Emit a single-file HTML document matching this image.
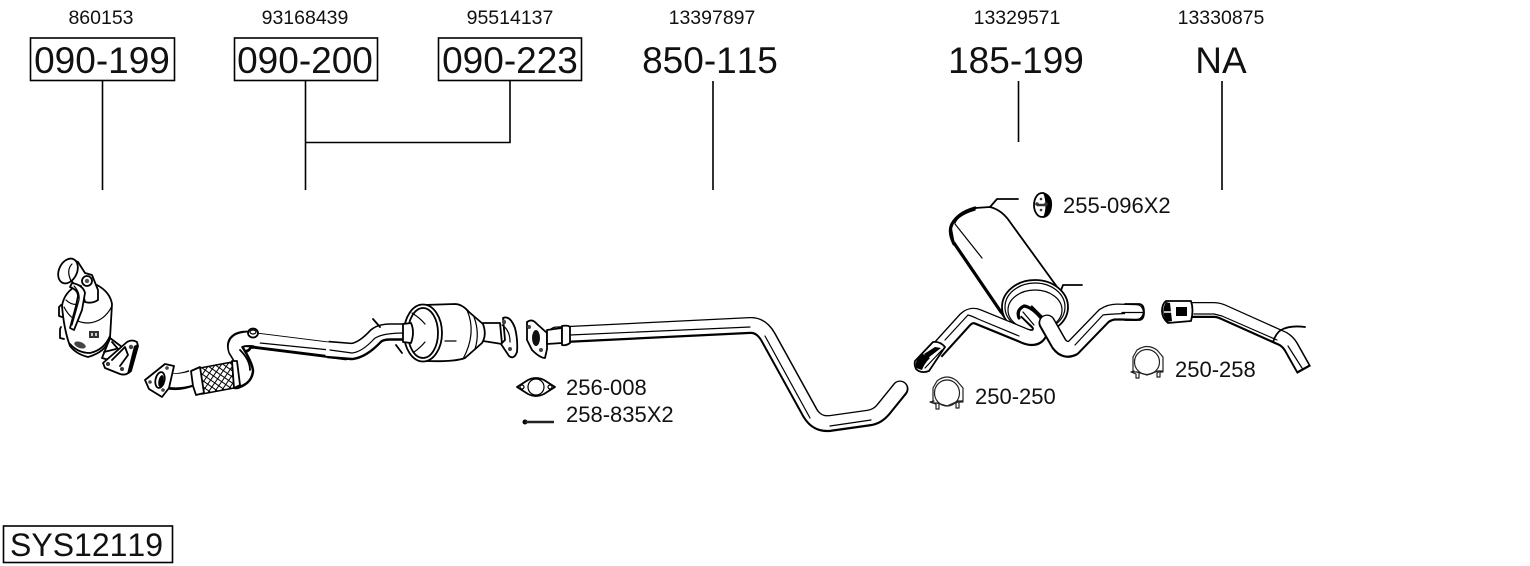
<!DOCTYPE html>
<html><head><meta charset="utf-8"><style>
html,body{margin:0;padding:0;background:#fff}
svg{display:block}
text{font-family:"Liberation Sans",sans-serif;fill:#111;font-kerning:none}
.t{font-size:19.5px;text-anchor:middle}
.b{font-size:37px;text-anchor:middle}
.l{font-size:22px}
.w{fill:#fff;stroke:#000;stroke-width:1.8;stroke-linejoin:round}
.n{fill:none;stroke:#000;stroke-width:1.2;stroke-linecap:round;stroke-linejoin:round}
.f{fill:none;stroke:#000;stroke-width:1.8;stroke-linecap:round;stroke-linejoin:round}
.h{fill:none;stroke:#000;stroke-width:3.2;stroke-linecap:round;stroke-linejoin:round}
.pb{fill:none;stroke:#000;stroke-linecap:round;stroke-linejoin:round}
.pw{fill:none;stroke:#fff;stroke-linecap:round;stroke-linejoin:round}
.tb{fill:none;stroke:#000;stroke-linecap:butt;stroke-linejoin:round}
.tw{fill:none;stroke:#fff;stroke-linecap:butt;stroke-linejoin:round}
</style></head><body>
<svg width="1530" height="566" viewBox="0 0 1530 566" xmlns="http://www.w3.org/2000/svg">
<defs>
<pattern id="x" width="5" height="5" patternUnits="userSpaceOnUse" patternTransform="rotate(35)">
<rect width="5" height="5" fill="#fff"/><path d="M0 0H5M0 0V5" stroke="#000" stroke-width="2"/>
</pattern>
</defs>

<!-- labels -->
<text class="t" x="101" y="24">860153</text>
<text class="t" x="305" y="24">93168439</text>
<text class="t" x="510" y="24">95514137</text>
<text class="t" x="712" y="24">13397897</text>
<text class="t" x="1017" y="24">13329571</text>
<text class="t" x="1221" y="24">13330875</text>
<g fill="none" stroke="#000" stroke-width="1.600">
<rect x="30.500" y="38" width="144" height="42.500"/>
<rect x="234.500" y="38" width="143" height="42.500"/>
<rect x="438.500" y="38" width="143" height="42.500"/>
<rect x="3.500" y="526" width="169" height="36.500"/>
</g>
<text class="b" x="102" y="73">090-199</text>
<text class="b" x="305" y="73">090-200</text>
<text class="b" x="510" y="73">090-223</text>
<text class="b" x="710" y="73">850-115</text>
<text class="b" x="1016" y="73">185-199</text>
<text class="b" x="1221" y="73">NA</text>
<text x="10" y="556" style="font-size:32px">SYS12119</text>
<text class="l" x="1063" y="213">255-096X2</text>
<text class="l" x="566" y="395">256-008</text>
<text class="l" x="566" y="422">258-835X2</text>
<text class="l" x="975" y="404">250-250</text>
<text class="l" x="1175" y="377">250-258</text>

<g stroke="#000" stroke-width="1.600" fill="none">
<path d="M102.500 81V190M305.500 81V190M510 81V142.500H305M713 81V190M1018.500 81V142M1222 81V190"/>
</g>

<!-- catalytic converter 1 -->
<path class="f" d="M61 305L59 307V316L62 317M61 327L60 329V338L64 339"/>
<path class="w" d="M110 338L122 347L116 362L102 358Z"/>
<path class="f" d="M104 352L116 349M112 342L119 350"/>
<path class="w" d="M62 306Q64 292 78 285L97 285Q110 292 112 304L110 338Q106 352 88 357Q76 354 70 346Q64 330 62 306Z" stroke-width="2.200"/>
<path class="n" d="M64 307Q72 323 88 323Q104 322 112 306"/>
<path class="f" d="M70 344Q78 353 90 353Q104 350 110 336"/>
<path class="n" d="M66 300Q72 306 80 304"/>
<path class="w" d="M70 279Q74 268 73 260L78 262L85 273L92 275L98 290L98 300Q92 304 85 302L81 286L74 284Z" stroke-width="2"/>
<ellipse class="w" cx="68" cy="271" rx="9" ry="13" transform="rotate(25 68 271)" stroke-width="2.400"/>
<path class="n" d="M72 264Q66 270 71 281"/>
<ellipse class="w" cx="87" cy="281" rx="5" ry="5"/><circle cx="87" cy="281" r="2.200" fill="#555"/>
<path class="w" d="M72 283Q83 285 85 293L82 310L74 330L70 328L76 306L78 296Q78 290 70 287Z" stroke-width="1.500"/>
<path class="n" d="M74 286Q80 292 79 300L72 325"/>
<path d="M89 331H99V338H89Z" fill="#333"/><path d="M91 333H93V336H91ZM95 333H97V336H95Z" fill="#ccc"/>
<ellipse cx="80" cy="345" rx="6" ry="3" fill="#444" transform="rotate(20 80 345)"/>
<path class="w" d="M103 363L127 342Q132 339 137 342L138 346L131 371Q126 376 120 374L105 368Z" stroke-width="2.200"/>
<path d="M138 344L131 372L127 374L134 346Z" fill="#000"/>
<path class="f" d="M112 360L125 347L128 355L120 366"/>
<circle cx="131" cy="347" r="2.200" fill="#444"/><circle cx="108" cy="364" r="2" fill="#333"/><circle cx="122" cy="369" r="2" fill="#333"/>

<!-- front pipe -->
<path class="pb" stroke-width="16.500" d="M345 352L330 350L258 341Q247 339 244 345"/>
<path class="pw" stroke-width="12.500" d="M346 351L330 349L258 340Q247 338 244 344"/>
<path class="n" d="M260 343L330 350"/>
<path class="pb" stroke-width="16.500" d="M249 339Q232 338 236 350Q245 364 246 371Q245 378 236 381"/>
<path class="pw" stroke-width="12.500" d="M255 339Q232 337 235.500 350Q244.500 364 245.500 371Q244.500 378 236 380"/>
<path d="M240 350Q250 360 250 370" class="f"/>
<ellipse class="w" cx="253" cy="333" rx="5" ry="4.500"/>
<ellipse class="n" cx="253" cy="332" rx="3" ry="2"/>
<path class="tb" stroke-width="17" d="M168 381Q180 383 192 378"/>
<path class="tw" stroke-width="13.500" d="M168 380Q180 382 193 377.500"/>
<path d="M200 368L232 362L234 388L202 394Z" fill="url(#x)" stroke="#000" stroke-width="1.500"/>
<path class="w" d="M191 371L200 367L204 393L196 395L193 386Z" stroke-width="2"/>
<path class="w" d="M232 361L237 361L240 385L234 388Z" stroke-width="2"/>
<path class="w" d="M145 380L165 364L174 366L169 388L162 397L149 389Z" stroke-width="2.500"/>
<ellipse class="w" cx="160" cy="380" rx="4.500" ry="8" transform="rotate(12 160 380)"/>
<ellipse cx="161" cy="381" rx="2.500" ry="6" fill="#000" transform="rotate(12 161 381)"/>
<circle cx="167" cy="368" r="1.800" fill="#444"/><circle cx="150" cy="382" r="1.800" fill="#444"/><circle cx="163" cy="390" r="1.800" fill="#444"/>

<!-- bend to cat 2 -->
<path class="tb" stroke-width="17.500" d="M328 349.500L352 351.500Q363 350 376 336Q381 332 390 332L406 332"/>
<path class="tw" stroke-width="13.500" d="M326 349L352 351Q363 349.500 376 335.500Q381 331.500 390 331.500L408 331.500"/>
<path class="n" d="M330 350L352 353Q362 352 374 339Q381 333 405 333"/>
<path class="f" d="M373 319L380 327M396 345L402 353"/>

<!-- catalytic converter 2 -->
<path class="w" d="M483 323L500 323L502 344L483 341Z"/>
<path class="w" d="M423 305L455 304Q462 304 469 312L483 324Q487 335 482 343L465 358Q455 362 425 361Z" stroke-width="2.200"/>
<path class="n" d="M467 310Q477 333 463 359"/>
<path class="n" d="M474 317Q480 333 475 349"/>
<path class="n" d="M445 341H456"/>
<ellipse class="w" cx="423" cy="333" rx="19" ry="28.500" stroke-width="2.200"/>
<ellipse class="w" cx="423" cy="333" rx="15" ry="25"/>
<path class="n" d="M412 313Q420 318 425 324M414 352Q420 348 425 342"/>
<path class="w" d="M403 324L411 323Q415 332 411 343L403 342Z"/>

<!-- flange pair -->
<path class="w" d="M503 318Q510 315 515 328Q518 340 517 352Q514 360 509 356L501 344L505 340Z" stroke-width="2.400"/>
<ellipse cx="504" cy="322" rx="2" ry="2.500" fill="#444"/><circle cx="510" cy="349" r="2" fill="#444"/>
<path class="n" d="M502 325Q510 330 510 342"/>

<path class="w" d="M527 322Q532 318 537 324L547 333L547 349L545 358Q540 358 532 350L527 340Z" stroke-width="2.400"/>
<ellipse cx="536" cy="338" rx="4" ry="8" fill="#111"/>
<circle cx="529" cy="327" r="2" fill="#444"/><circle cx="541" cy="350" r="2" fill="#444"/>

<!-- main pipe -->
<path class="pb" stroke-width="17" d="M556 335L750 325.500Q761 325 768 337L810 413Q817 425 830 423.500L869 418Q877 417 883 410L900 389"/>
<path class="pw" stroke-width="13.500" d="M556 334.500L750 325Q761 324.500 768 336.500L810 412.500Q817 424.500 830 423L869 417.500Q877 416.500 883 409.500L900 388.500"/>
<path class="n" d="M570 335L750 327M765 336L810 418M830 426L871 420"/>
<path class="w" d="M547 330L562 328L562 343L547 344Z" stroke-width="1.600"/>
<path class="w" d="M562 326Q568 325 570 327L570 343Q566 346 562 345Z" stroke-width="1.600"/>

<!-- gasket and bolt -->
<path class="f" d="M517 387L528 380Q536 376 544 380L555 387L544 394Q536 398 528 394Z" stroke-width="1.300"/>
<ellipse class="n" cx="536" cy="387" rx="8" ry="8"/>
<circle class="n" cx="522" cy="387" r="2"/><circle class="n" cx="550" cy="387" r="2"/>
<circle cx="525" cy="422" r="2.500" fill="#000"/>
<path d="M525 422H554" stroke="#222" stroke-width="2.500"/>

<!-- muffler -->
<path class="w" d="M951 228Q955 212 975 208L990 207Q1002 210 1010 222L1060 291L1004 317L954 244Z" stroke-width="1.600"/>
<path class="h" d="M954 244Q948 232 952 224Q958 213 975 208M954 243L1001 312"/>
<path class="n" d="M955 223Q958 215 975 210M955 224L982 258"/>
<path class="f" d="M990 207L997 199H1018M1060 293L1063 285H1082"/>
<ellipse class="w" cx="1035" cy="307" rx="33" ry="27" stroke-width="2.400"/>
<ellipse class="n" cx="1035" cy="307" rx="30" ry="24"/>
<ellipse class="n" cx="1035" cy="310" rx="27" ry="20"/>

<!-- muffler pipes -->
<path class="tb" stroke-width="16.500" d="M936 352L965 320Q971 314 978 317L1022 335Q1036 342 1040 332Q1042 326 1035 320L1026 311"/>
<path class="pw" stroke-width="13" d="M936 351.500L965 319.500Q971 313.500 978 316.500L1022 334.500Q1036 341.500 1040 331.500Q1042 325.500 1035 319.500L1026 311"/>
<path class="h" d="M1019 318Q1016 310 1024 306Q1032 307 1041 318" stroke-width="2.200"/>
<path class="n" d="M945 340L968 315Q972 316 978 319L1019 336M1023 312L1034 325"/>

<path class="pb" stroke-width="17" d="M1047 323L1059 344Q1065 352 1073 348L1104 316Q1110 312 1117 312L1136 312.500"/>
<path class="pw" stroke-width="13.500" d="M1047 322.500L1059 343.500Q1065 351.500 1073 347.500L1104 315.500Q1110 311.500 1117 311.500L1136 312"/>
<path class="n" d="M1075 345L1103 315Q1108 314 1140 313"/>
<path class="f" d="M1125 304H1139Q1144 304 1144 312Q1144 320 1139 320H1125" stroke-width="2"/>
<path fill="#fff" stroke="none" d="M1125 305.500H1138Q1142 306 1142 312Q1142 318 1138 318.500H1125Z"/>
<path class="n" d="M1122 312.500H1143"/>

<!-- tip -->
<path class="w" d="M915 361L933 342Q940 341 945 347L929 371Q921 374 916 369Q914 365 915 361Z" stroke-width="2.400"/>
<path d="M916 368Q914 360 923 354L930 358Q924 364 922 370Z" fill="#000"/>
<path d="M924 354L935 347L941 348L928 358Z" fill="#000"/>
<path class="n" d="M925 368L942 350"/>

<!-- gasket 255-096 -->
<ellipse class="w" cx="1042" cy="205" rx="8" ry="12" stroke-width="1"/>
<path d="M1043 192Q1053 195 1052 206Q1051 217 1043 218Q1048 206 1043 192Z" fill="#000"/>
<path d="M1037 205H1047" stroke="#333" stroke-width="2.500"/>
<circle cx="1037" cy="204" r="1.800" fill="#333"/><circle cx="1046" cy="204" r="1.800" fill="#333"/><circle cx="1041" cy="199" r="1.300" fill="#333"/><circle cx="1041" cy="210" r="1.300" fill="#333"/>

<!-- clamps -->
<g fill="none" stroke="#222" stroke-width="1.200" stroke-linecap="round" stroke-linejoin="round">
<ellipse cx="947" cy="393" rx="12.500" ry="13"/>
<path d="M937 381Q947 373 957 381L963 388V401H958L947 406L937 403H933V388Z"/>
<path d="M934 401L930 402L936 404V409H939V404M960 401L956 403V408H959V402H963"/>
</g>
<g fill="none" stroke="#222" stroke-width="1.200" stroke-linecap="round" stroke-linejoin="round">
<ellipse cx="1147" cy="362" rx="12.500" ry="12.500"/>
<path d="M1137 350Q1147 343 1157 350L1163 357V371H1158L1147 375L1137 372H1133V357Z"/>
<path d="M1134 371L1131 372L1136 374V378H1139V373M1160 371L1157 373V377H1160V372H1163"/>
</g>

<!-- tail pipe -->
<path class="tb" stroke-width="16" d="M1190 310H1214Q1219 310 1225 313L1283 339Q1288 342 1291 347L1304 370"/>
<path class="tw" stroke-width="12.500" d="M1188 309.500H1214Q1219 309.500 1225 312.500L1283 338.500Q1288 341.500 1291 346.500L1303 368"/>
<path class="n" d="M1194 314H1214L1222 316L1277 340M1288 346L1302 368"/>
<path class="w" d="M1166 301H1191Q1194 310 1191 321L1168 323Q1162 318 1162 311Q1162 304 1166 301Z" stroke-width="2"/>
<path d="M1166 302Q1160 312 1167 322L1172 321L1170 303ZM1176 307H1187V316H1176Z" fill="#000"/>
<path stroke="#fff" stroke-width="1.500" d="M1164 312H1176"/>
<path class="f" d="M1273 342Q1276 333 1281 330Q1290 325 1305 327"/>
</svg>
</body></html>
